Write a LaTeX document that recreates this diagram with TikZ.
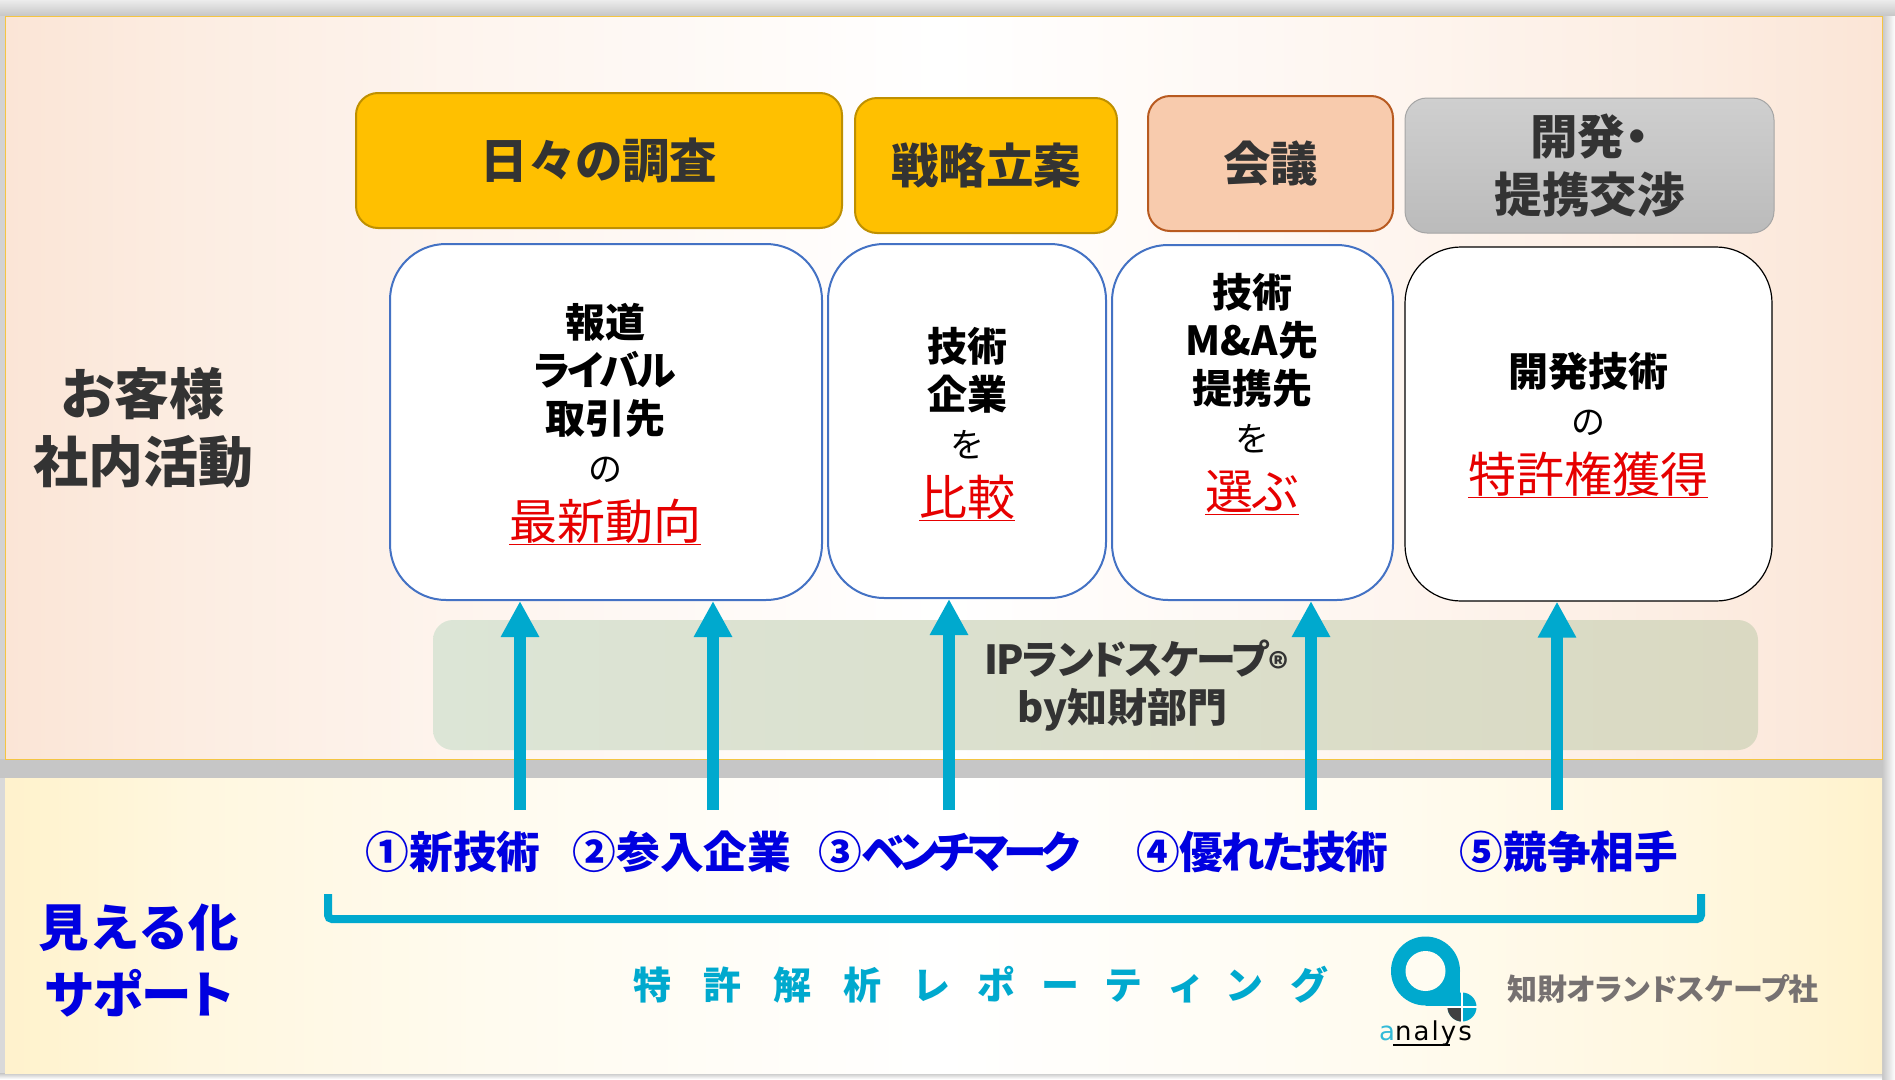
\documentclass[tikz,border=0pt]{standalone}
\usepackage{fontspec}
\setmainfont{Noto Sans CJK JP}[RawFeature=+palt]
\newfontfamily\logofont{DejaVu Sans}
\usetikzlibrary{arrows.meta}
\definecolor{txtdark}{HTML}{333333}
\definecolor{arrowblue}{HTML}{00A9CE}
\definecolor{labelblue}{HTML}{0000E0}
\definecolor{alertred}{HTML}{E60000}
\definecolor{logogray}{HTML}{767171}
\definecolor{panelline}{HTML}{F4C542}
\definecolor{bandL}{HTML}{DCE5D6}
\definecolor{bandM}{HTML}{DDE5D5}
\definecolor{bandR}{HTML}{DAD9C2}
\definecolor{amber}{HTML}{FFC000}
\definecolor{amberline}{HTML}{BF9000}
\definecolor{salmon}{HTML}{F8CBAD}
\definecolor{salmonline}{HTML}{B85A20}
\definecolor{greyline}{HTML}{A5A5A5}
\definecolor{greytop}{HTML}{CFCFCF}
\definecolor{greybot}{HTML}{BBBBBB}
\definecolor{boxblue}{HTML}{4472C4}
\definecolor{holecol}{HTML}{FFFCF2}
\pgfdeclarehorizontalshading{topgrad}{100bp}{
  rgb(0bp)=(0.984,0.898,0.839); rgb(25bp)=(0.984,0.898,0.839);
  rgb(30bp)=(0.988,0.929,0.886); rgb(38bp)=(0.996,0.961,0.937); rgb(50bp)=(1,1,1);
  rgb(62bp)=(0.996,0.961,0.937); rgb(70bp)=(0.988,0.929,0.886);
  rgb(75bp)=(0.984,0.898,0.839); rgb(100bp)=(0.984,0.898,0.839)}
\pgfdeclarehorizontalshading{botgrad}{100bp}{
  rgb(0bp)=(1,0.949,0.800); rgb(25bp)=(1,0.949,0.800);
  rgb(30bp)=(1,0.969,0.875); rgb(38bp)=(1,0.984,0.937); rgb(50bp)=(1,1,1);
  rgb(62bp)=(1,0.984,0.937); rgb(70bp)=(1,0.969,0.875);
  rgb(75bp)=(1,0.949,0.800); rgb(100bp)=(1,0.949,0.800)}
\newcommand{\bk}[1]{{\fontsize{40pt}{48pt}\bfseries\selectfont #1}}
\newcommand{\rg}[1]{{\fontsize{34pt}{48pt}\selectfont #1}}
\newcommand{\rd}[1]{{\fontsize{48pt}{48pt}\selectfont\color{alertred}\underline{#1}}}
\newcommand{\gapA}{\hspace{32pt}}
\newcommand{\gapB}{\hspace{27.8pt}}
\tikzset{
  headbox/.style={rounded corners=22pt,line width=2pt,inner sep=0pt,text=txtdark,align=center,
    font=\fontsize{47.5pt}{57pt}\bfseries\selectfont},
  whitebox/.style={rounded corners=56pt,draw=boxblue,fill=white,line width=2pt,inner sep=0pt,
    align=center,text=black},
  boxtext/.style={inner sep=0pt,align=center,text=black,font=\fontsize{40pt}{48pt}\selectfont},
  sidelabel/.style={align=center,inner sep=0pt,font=\fontsize{55pt}{68pt}\bfseries\selectfont,text=txtdark},
  numlabel/.style={inner sep=0pt,font=\fontsize{43.7pt}{50pt}\bfseries\selectfont,text=labelblue},
  upconn/.style={draw=arrowblue,line width=12pt,-{Triangle[length=36pt,width=36pt]}},
}
\begin{document}
\begin{tikzpicture}[x=1pt,y=-1pt]
\useasboundingbox (0,0) rectangle (1895,1079);
% shadow strips
\fill[white] (0,0) rectangle (1895,1079);
\shade[top color=gray!15,bottom color=gray!45] (0,0) rectangle (1895,16);
\fill[gray!35] (0,16) rectangle (5,778);
\fill[gray!45] (0,759) rectangle (1895,778);
\shade[left color=gray!45,right color=white] (1882,16) rectangle (1895,1079);
\shade[top color=gray!45,bottom color=white] (0,1073) rectangle (1882,1079);
\fill[gray!30] (0,778) rectangle (5,1073);
% panels
\node[draw=panelline,line width=1pt,inner sep=0pt,minimum width=1877pt,minimum height=743pt,
  shading=topgrad] (panelTop) at (943.5,387.5) {};
\node[inner sep=0pt,minimum width=1877pt,minimum height=295pt,
  shading=botgrad] (panelBottom) at (943.5,925.5) {};
% green band
\node[rounded corners=20pt,inner sep=0pt,minimum width=1325pt,minimum height=130pt,
  left color=bandL,middle color=bandM,right color=bandR] (band) at (1095.5,685) {};
\node[inner sep=0pt,align=center,text=txtdark,font=\fontsize{40pt}{48pt}\bfseries\selectfont] (bandtext) at (1136.5,685.5)
  {{\addfontfeatures{LetterSpace=-4.5}IPランドスケープ}{\fontsize{38pt}{48pt}\selectfont\raisebox{-8pt}{®}}\\by知財部門\hspace*{28pt}};
% head boxes
\node[headbox,fill=amber,draw=amberline,minimum width=486pt,minimum height=135pt] (h1) at (599,160.5) {\raisebox{-1pt}{日々の調査}};
\node[headbox,fill=amber,draw=amberline,minimum width=262pt,minimum height=135pt] (h2) at (986,165.5) {戦略立案};
\node[headbox,fill=salmon,draw=salmonline,minimum width=245pt,minimum height=135pt] (h3) at (1270.5,163.5) {\raisebox{-1pt}{会議}};
\node[headbox,draw=greyline,line width=1pt,top color=greytop,bottom color=greybot,minimum width=369pt,minimum height=135pt] (h4) at (1589.5,165.5) {\raisebox{-2pt}{開発・}\\[1pt]\raisebox{-2pt}{提携交渉}};
% white boxes
\node[whitebox,minimum width=432pt,minimum height=356pt] (b1) at (606,422) {};
\node[whitebox,minimum width=278pt,minimum height=354pt] (b2) at (967,421) {};
\node[whitebox,minimum width=281pt,minimum height=355pt] (b3) at (1252.5,422.5) {};
\node[whitebox,draw=black,line width=1.2pt,minimum width=367pt,minimum height=354pt] (b4) at (1588.5,424) {};
\node[boxtext] (t1) at (605,424) {\bk{報道}\\\bk{\addfontfeatures{LetterSpace=-7}ライバル}\\\bk{取引先}\\\rg{の}\\[10pt]\rd{最新動向}};
\node[boxtext] (t2) at (967,424) {\bk{技術}\\\bk{企業}\\\rg{を}\\[10pt]\rd{比較}};
\node[boxtext] (t3) at (1252,394) {\bk{技術}\\\bk{M\&A先}\\\bk{提携先}\\\rg{を}\\[10pt]\rd{選ぶ}};
\node[boxtext] (t4) at (1588,425) {\bk{開発技術}\\\rg{の}\\[10pt]\rd{特許権獲得}};
% side labels
\node[sidelabel] (side1) at (143,428) {お客様\\社内活動};
\node[sidelabel,text=labelblue,font=\fontsize{50.5pt}{67pt}\bfseries\selectfont] (side2) at (139,961) {{\addfontfeatures{RawFeature=-palt}見える化}\\サポート};
% numbered labels
\node[numlabel] (n1) at (453,852) {①新技術};
\node[numlabel] (n2) at (682,852) {②参入企業};
\node[numlabel] (n3) at (949,852) {③{\addfontfeatures{LetterSpace=-13}ベンチマーク}};
\node[numlabel] (n4) at (1262,852) {④{\addfontfeatures{LetterSpace=-5}優れた技術}};
\node[numlabel] (n5) at (1569,852) {⑤競争相手};
% connectors
\coordinate (s1) at (520,810);
\coordinate (s2) at (713,810);
\coordinate (s3) at (949,810);
\coordinate (s4) at (1311,810);
\coordinate (s5) at (1557,810);
\draw[upconn] (s1) -- (s1 |- b1.south);
\draw[upconn] (s2) -- (s2 |- b1.south);
\draw[upconn] (s3) -- (s3 |- b2.south);
\draw[upconn] (s4) -- (s4 |- b3.south);
\draw[upconn] (s5) -- (s5 |- b4.south);
% bracket
\coordinate (brL) at (328,894);
\coordinate (brR) at (1701,894);
\draw[arrowblue,line width=8pt,rounded corners=4pt] (brL) -- (328,919) -- (1701,919) -- (brR);
% caption
\node[inner sep=0pt,text=arrowblue,font=\fontsize{38pt}{44pt}\bfseries\selectfont] (caption) at (980,985)
  {特\gapA 許\gapA 解\gapA 析\gapA レ\gapB ポ\gapB ー\gapB テ\gapB ィ\gapB ン\gapB グ};
% logo
\fill[arrowblue] (1462,1007) circle[radius=14.5pt];
\fill[black!75] (1462,1007) -- (1447.5,1007) .. controls (1447.5,1015) and (1454,1021.5) .. (1462,1021.5) -- cycle;
\draw[white,line width=1.8pt] (1447,1007) -- (1477,1007) (1462,992) -- (1462,1022);
\fill[arrowblue] (1425.5,971) circle[radius=34.5pt];
\fill[arrowblue] (1425.5,971) rectangle (1460,1006);
\fill[holecol] (1425.5,971) circle[radius=20pt];
\node[inner sep=0pt,font=\logofont\fontsize{26pt}{28pt}\selectfont] (logotext) at (1425.5,1033)
  {\addfontfeatures{LetterSpace=8}{\color{arrowblue!80}a}nalys};
\draw[black,line width=1.5pt] (1393,1045) -- (1450,1045);
\node[inner sep=0pt,text=logogray,font=\fontsize{30pt}{34pt}\bfseries\selectfont] (brand) at (1663,989) {知財オランドスケープ社};
\end{tikzpicture}
\end{document}
